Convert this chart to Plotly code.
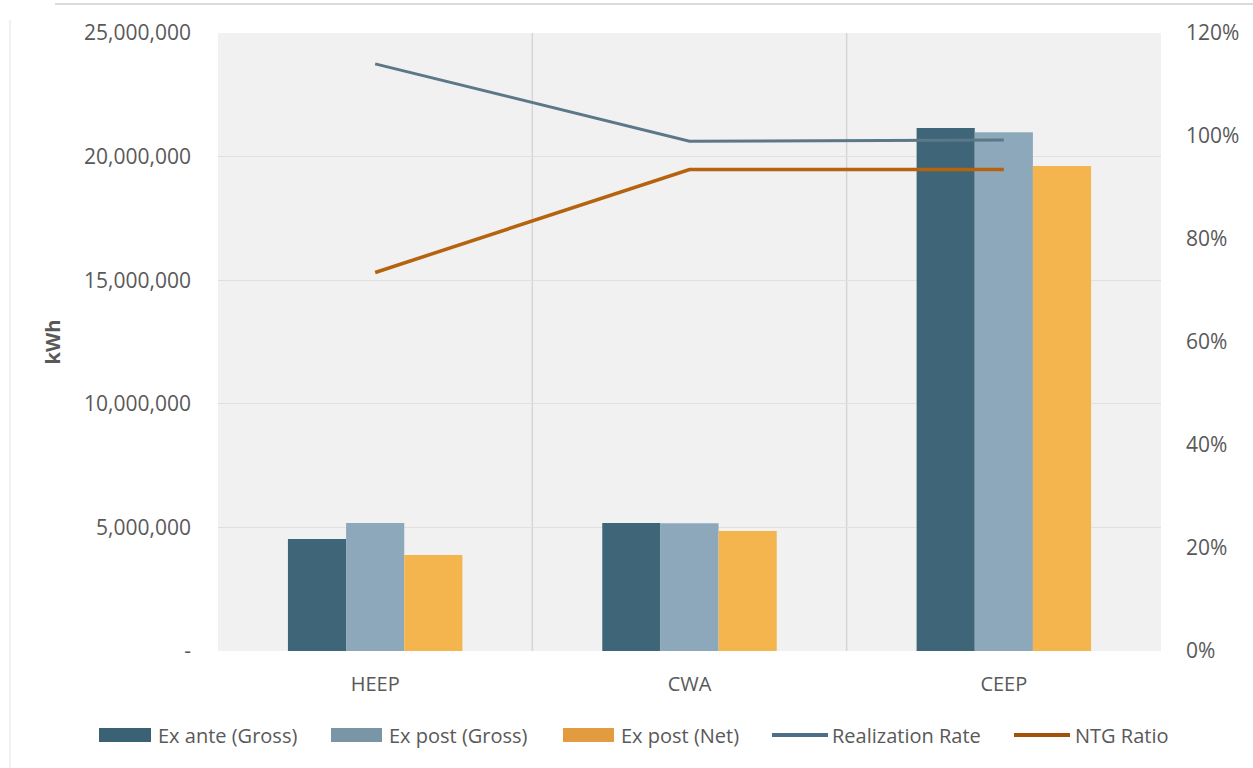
import plotly.graph_objects as go

programs = ["HEEP", "CWA", "CEEP"]
ex_ante_gross = [4530000, 5180000, 21160000]
ex_post_gross = [5180000, 5170000, 20990000]
ex_post_net = [3880000, 4850000, 19620000]
realization_rate = [1.14, 0.99, 0.992]
ntg_ratio = [0.735, 0.935, 0.935]

kwh_ticks = [0, 5000000, 10000000, 15000000, 20000000, 25000000]
kwh_labels = ["-", "5,000,000", "10,000,000", "15,000,000", "20,000,000", "25,000,000"]
pct_ticks = [0, 0.2, 0.4, 0.6, 0.8, 1.0, 1.2]
pct_labels = ["0%", "20%", "40%", "60%", "80%", "100%", "120%"]

FONT = "Open Sans, Segoe UI, sans-serif"
TXT = "#595959"

# plot area in pixels (used to place the legend row)
W, H = 1253, 768
L, R, T, B = 218, 1161, 33, 651


def px_x(v):
    return (v - L) / (R - L)


def px_y(v):
    return (B - v) / (B - T)


series_style = [
    ("Ex ante (Gross)", "#3f6578", "#3b6274", "bar"),
    ("Ex post (Gross)", "#8ea8bb", "#7a95a6", "bar"),
    ("Ex post (Net)", "#f4b54f", "#e39b40", "bar"),
    ("Realization Rate", "#5b7788", "#4e6e85", "line"),
    ("NTG Ratio", "#b5630e", "#a2520a", "line"),
]

fig = go.Figure()
for (name, col, _, _), vals in zip(series_style[:3], [ex_ante_gross, ex_post_gross, ex_post_net]):
    fig.add_trace(go.Bar(x=programs, y=vals, name=name,
                         marker=dict(color=col, line=dict(width=0))))
fig.add_trace(go.Scatter(x=programs, y=realization_rate, name=series_style[3][0],
                         mode="lines", yaxis="y2",
                         line=dict(color=series_style[3][1], width=3)))
fig.add_trace(go.Scatter(x=programs, y=ntg_ratio, name=series_style[4][0],
                         mode="lines", yaxis="y2",
                         line=dict(color=series_style[4][1], width=3.5)))

fig.update_layout(
    width=W, height=H,
    margin=dict(l=L, r=W - R, t=T, b=H - B, autoexpand=False),
    paper_bgcolor="white",
    plot_bgcolor="#f1f1f1",
    font=dict(family=FONT, size=21, color=TXT),
    barmode="group",
    bargap=0.445,
    bargroupgap=0,
    showlegend=False,
    xaxis=dict(showgrid=False, showline=False, ticks="", ticklabelstandoff=19,
               tickfont=dict(size=20)),
    yaxis=dict(range=[0, 25000000], tickvals=kwh_ticks, ticktext=kwh_labels,
               showgrid=True, gridcolor="#e0e0e0", gridwidth=1, zeroline=False,
               showline=False, ticklabelstandoff=26,
               title=dict(text="<b>kWh</b>", font=dict(size=20, color=TXT), standoff=18)),
    yaxis2=dict(range=[0, 1.2], tickvals=pct_ticks, ticktext=pct_labels,
                overlaying="y", side="right", showgrid=False, zeroline=False,
                showline=False, ticklabelstandoff=24),
)

# category separators
for xv in [0.5, 1.5]:
    fig.add_shape(type="line", xref="x", yref="paper", x0=xv, x1=xv, y0=0, y1=1,
                  line=dict(color="#d6d6d6", width=1.5), layer="below")

# outer chart frame (top and left edges)
fig.add_shape(type="line", xref="paper", yref="paper",
              x0=px_x(55), x1=px_x(1260), y0=px_y(4), y1=px_y(4),
              line=dict(color="#cfcfcf", width=1.5))
fig.add_shape(type="line", xref="paper", yref="paper",
              x0=px_x(10), x1=px_x(10), y0=px_y(20), y1=px_y(768),
              line=dict(color="#ececec", width=1.5))

# legend row along the bottom
legend_y = 735
legend_items = [(99, 151, 156), (331, 382, 387), (563, 614, 619), (772, 828, 830), (1014, 1070, 1073)]
for (name, _, lcol, kind), (x0, x1, tx) in zip(series_style, legend_items):
    if kind == "bar":
        fig.add_shape(type="rect", xref="paper", yref="paper",
                      x0=px_x(x0), x1=px_x(x1), y0=px_y(legend_y + 7), y1=px_y(legend_y - 7),
                      fillcolor=lcol, line=dict(width=0))
    else:
        fig.add_shape(type="line", xref="paper", yref="paper",
                      x0=px_x(x0), x1=px_x(x1), y0=px_y(legend_y), y1=px_y(legend_y),
                      line=dict(color=lcol, width=4))
    fig.add_annotation(text=name, xref="paper", yref="paper",
                       x=px_x(tx), y=px_y(legend_y), xanchor="left", yanchor="middle",
                       showarrow=False, font=dict(size=20, color=TXT))

fig.write_html("out.html")
